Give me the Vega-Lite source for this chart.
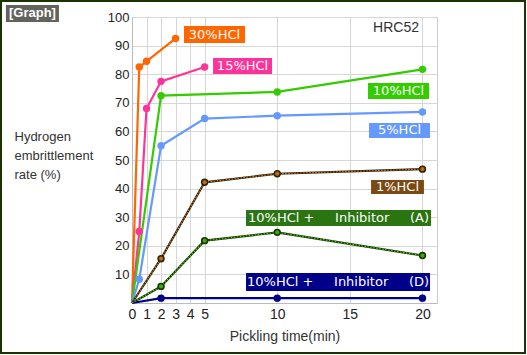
{
  "$schema": "https://vega.github.io/schema/vega-lite/v6.json",
  "width": 305,
  "height": 286,
  "autosize": "none",
  "padding": {"left": 132, "top": 17, "right": 90, "bottom": 52},
  "background": "white",
  "config": {
    "view": {"stroke": "#cccccc"},
    "font": "Liberation Sans",
    "axis": {"labelOverlap": false, "labelBound": false, "labelFlush": false}
  },
  "datasets": {
    "series": [
      {"s": "30%HCl", "t": 0, "v": 0},
      {"s": "30%HCl", "t": 0.5, "v": 82.5},
      {"s": "30%HCl", "t": 1, "v": 84.5},
      {"s": "30%HCl", "t": 3, "v": 92.5},
      {"s": "15%HCl", "t": 0, "v": 0},
      {"s": "15%HCl", "t": 0.5, "v": 25},
      {"s": "15%HCl", "t": 1, "v": 68},
      {"s": "15%HCl", "t": 2, "v": 77.5},
      {"s": "15%HCl", "t": 5, "v": 82.5},
      {"s": "10%HCl", "t": 0, "v": 0},
      {"s": "10%HCl", "t": 2, "v": 72.5},
      {"s": "10%HCl", "t": 10, "v": 73.8},
      {"s": "10%HCl", "t": 20, "v": 81.7},
      {"s": "5%HCl", "t": 0, "v": 0},
      {"s": "5%HCl", "t": 0.5, "v": 8.3},
      {"s": "5%HCl", "t": 2, "v": 55},
      {"s": "5%HCl", "t": 5, "v": 64.5},
      {"s": "5%HCl", "t": 10, "v": 65.5},
      {"s": "5%HCl", "t": 20, "v": 66.8},
      {"s": "1%HCl", "t": 0, "v": 0},
      {"s": "1%HCl", "t": 2, "v": 15.5},
      {"s": "1%HCl", "t": 5, "v": 42.2},
      {"s": "1%HCl", "t": 10, "v": 45.2},
      {"s": "1%HCl", "t": 20, "v": 46.8},
      {"s": "10%HCl + Inhibitor (A)", "t": 0, "v": 0},
      {"s": "10%HCl + Inhibitor (A)", "t": 2, "v": 5.8},
      {"s": "10%HCl + Inhibitor (A)", "t": 5, "v": 21.8},
      {"s": "10%HCl + Inhibitor (A)", "t": 10, "v": 24.7},
      {"s": "10%HCl + Inhibitor (A)", "t": 20, "v": 16.6},
      {"s": "10%HCl + Inhibitor (D)", "t": 0, "v": 0},
      {"s": "10%HCl + Inhibitor (D)", "t": 2, "v": 1.7},
      {"s": "10%HCl + Inhibitor (D)", "t": 10, "v": 1.7},
      {"s": "10%HCl + Inhibitor (D)", "t": 20, "v": 1.7}
    ],
    "labels": [
      {"s": "30%HCl", "text": "30%HCl", "t": 3.58, "t2": 7.78, "v": 96.85, "v2": 90.91},
      {"s": "15%HCl", "text": "15%HCl", "t": 5.58, "t2": 9.64, "v": 85.66, "v2": 80.07},
      {"s": "10%HCl", "text": "10%HCl", "t": 16.25, "t2": 20.45, "v": 76.92, "v2": 71.33},
      {"s": "5%HCl", "text": "5%HCl", "t": 16.32, "t2": 20.52, "v": 62.94, "v2": 57.69},
      {"s": "1%HCl", "text": "1%HCl", "t": 16.46, "t2": 20.1, "v": 43.0, "v2": 38.11},
      {"s": "10%HCl + Inhibitor (A)", "text": "10%HCl +\u00a0\u00a0\u00a0\u00a0\u00a0Inhibitor\u00a0\u00a0\u00a0\u00a0\u00a0(A)", "t": 7.85, "t2": 20.59, "v": 32.52, "v2": 26.92},
      {"s": "10%HCl + Inhibitor (D)", "text": "10%HCl +\u00a0\u00a0\u00a0\u00a0\u00a0Inhibitor\u00a0\u00a0\u00a0\u00a0\u00a0(D)", "t": 7.85, "t2": 20.52, "v": 10.49, "v2": 4.2}
    ],
    "graph": [
      {"text": "[Graph]", "t": -8.68, "t2": -5.03, "v": 104.2, "v2": 98.25}
    ],
    "frame": [
      {"t": -9.02, "t2": 27.06, "v": 105.59, "v2": -17.48}
    ],
    "note": [
      {"text": "HRC52", "t": 19.76, "v": 96.15}
    ]
  },
  "resolve": {"scale": {"color": "independent"}},
  "encoding": {
    "x": {
      "field": "t", "type": "quantitative",
      "scale": {"domain": [0, 21], "nice": false, "zero": false},
      "axis": {
        "title": "Pickling time(min)",
        "values": [0, 1, 2, 3, 4, 5, 10, 15, 20],
        "labelOverlap": false,
        "grid": true, "gridColor": "#d6d6d6",
        "ticks": false, "domainColor": "#bbbbbb",
        "labelFontSize": 14, "labelColor": "#222222", "labelPadding": 4,
        "labelFont": "Liberation Sans",
        "titleFontSize": 14, "titleFontWeight": "normal", "titleColor": "#333333",
        "titlePadding": 8, "titleFont": "Liberation Sans"
      }
    },
    "y": {
      "field": "v", "type": "quantitative",
      "scale": {"domain": [0, 100], "nice": false},
      "axis": {
        "title": ["Hydrogen", "embrittlement", "rate (%)"],
        "values": [10, 20, 30, 40, 50, 60, 70, 80, 90, 100],
        "labelOverlap": false,
        "grid": true, "gridColor": "#d6d6d6",
        "ticks": false, "domainColor": "#bbbbbb",
        "labelFontSize": 13, "labelColor": "#222222", "labelPadding": 3,
        "labelFont": "Liberation Sans",
        "titleAngle": 0, "titleAlign": "left", "titleBaseline": "top",
        "titleX": -118, "titleY": 113, "titleLineHeight": 19,
        "titleFontSize": 13, "titleFontWeight": "normal", "titleColor": "#333333",
        "titleFont": "Liberation Sans"
      }
    }
  },
  "layer": [
    {
      "data": {"name": "series"},
      "mark": {"type": "line", "strokeWidth": 2.2, "clip": false},
      "encoding": {
        "color": {
          "field": "s", "type": "nominal", "legend": null,
          "scale": {
            "domain": ["30%HCl", "15%HCl", "10%HCl", "5%HCl", "1%HCl", "10%HCl + Inhibitor (A)", "10%HCl + Inhibitor (D)"],
            "range": ["#ff6600", "#ff3399", "#33cc00", "#6699ff", "#1f2a05", "#1a3300", "#000088"]
          }
        },
        "detail": {"field": "s"}
      }
    },
    {
      "data": {"name": "series"},
      "transform": [{"filter": "datum.s === '1%HCl' || datum.s === '10%HCl + Inhibitor (A)'"}],
      "mark": {"type": "line", "strokeWidth": 1.1, "strokeDash": [1.5, 1.5], "clip": false},
      "encoding": {
        "color": {
          "field": "s", "type": "nominal", "legend": null,
          "scale": {"domain": ["1%HCl", "10%HCl + Inhibitor (A)"], "range": ["#ff6633", "#44dd11"]}
        }
      }
    },
    {
      "data": {"name": "series"},
      "transform": [{"filter": "datum.t > 0"}],
      "mark": {"type": "point", "filled": true, "size": 55, "opacity": 1, "clip": false},
      "encoding": {
        "color": {
          "field": "s", "type": "nominal", "legend": null,
          "scale": {
            "domain": ["30%HCl", "15%HCl", "10%HCl", "5%HCl", "1%HCl", "10%HCl + Inhibitor (A)", "10%HCl + Inhibitor (D)"],
            "range": ["#ff6600", "#ff3399", "#33cc00", "#6699ff", "#1f2a05", "#1a3300", "#000088"]
          }
        }
      }
    },
    {
      "data": {"name": "series"},
      "transform": [
        {"filter": "datum.t > 0"},
        {"filter": "datum.s === '1%HCl' || datum.s === '10%HCl + Inhibitor (A)'"}
      ],
      "mark": {"type": "point", "filled": true, "size": 18, "opacity": 1, "clip": false},
      "encoding": {
        "color": {
          "field": "s", "type": "nominal", "legend": null,
          "scale": {"domain": ["1%HCl", "10%HCl + Inhibitor (A)"], "range": ["#d06020", "#3aaa10"]}
        }
      }
    },
    {
      "data": {"name": "labels"},
      "mark": {"type": "rect", "clip": false, "opacity": 1},
      "encoding": {
        "x2": {"field": "t2"},
        "y2": {"field": "v2"},
        "color": {
          "field": "s", "type": "nominal", "legend": null,
          "scale": {
            "domain": ["30%HCl", "15%HCl", "10%HCl", "5%HCl", "1%HCl", "10%HCl + Inhibitor (A)", "10%HCl + Inhibitor (D)"],
            "range": ["#ff6600", "#ff3399", "#33cc00", "#6699ff", "#7a4a12", "#2a7412", "#000088"]
          }
        }
      }
    },
    {
      "data": {"name": "labels"},
      "transform": [
        {"calculate": "(datum.t + datum.t2) / 2", "as": "t"},
        {"calculate": "(datum.v + datum.v2) / 2", "as": "v"}
      ],
      "mark": {"type": "text", "font": "DejaVu Sans", "fontSize": 13, "color": "white", "baseline": "middle", "align": "center", "clip": false},
      "encoding": {
        "text": {"field": "text"}
      }
    },
    {
      "data": {"name": "graph"},
      "mark": {"type": "rect", "color": "#63635e", "clip": false, "opacity": 1},
      "encoding": {
        "x2": {"field": "t2"},
        "y2": {"field": "v2"}
      }
    },
    {
      "data": {"name": "graph"},
      "transform": [
        {"calculate": "(datum.t + datum.t2) / 2", "as": "t"},
        {"calculate": "(datum.v + datum.v2) / 2", "as": "v"}
      ],
      "mark": {"type": "text", "font": "Liberation Sans", "fontSize": 13, "fontWeight": "bold", "color": "white", "baseline": "middle", "align": "center", "clip": false},
      "encoding": {
        "text": {"field": "text"}
      }
    },
    {
      "data": {"name": "note"},
      "mark": {"type": "text", "font": "Liberation Sans", "fontSize": 14, "color": "#333333", "baseline": "middle", "align": "right", "clip": false},
      "encoding": {
        "text": {"field": "text"}
      }
    },
    {
      "data": {"name": "frame"},
      "mark": {"type": "rect", "filled": false, "stroke": "#1a3300", "strokeWidth": 2, "clip": false},
      "encoding": {
        "x2": {"field": "t2"},
        "y2": {"field": "v2"}
      }
    }
  ]
}
